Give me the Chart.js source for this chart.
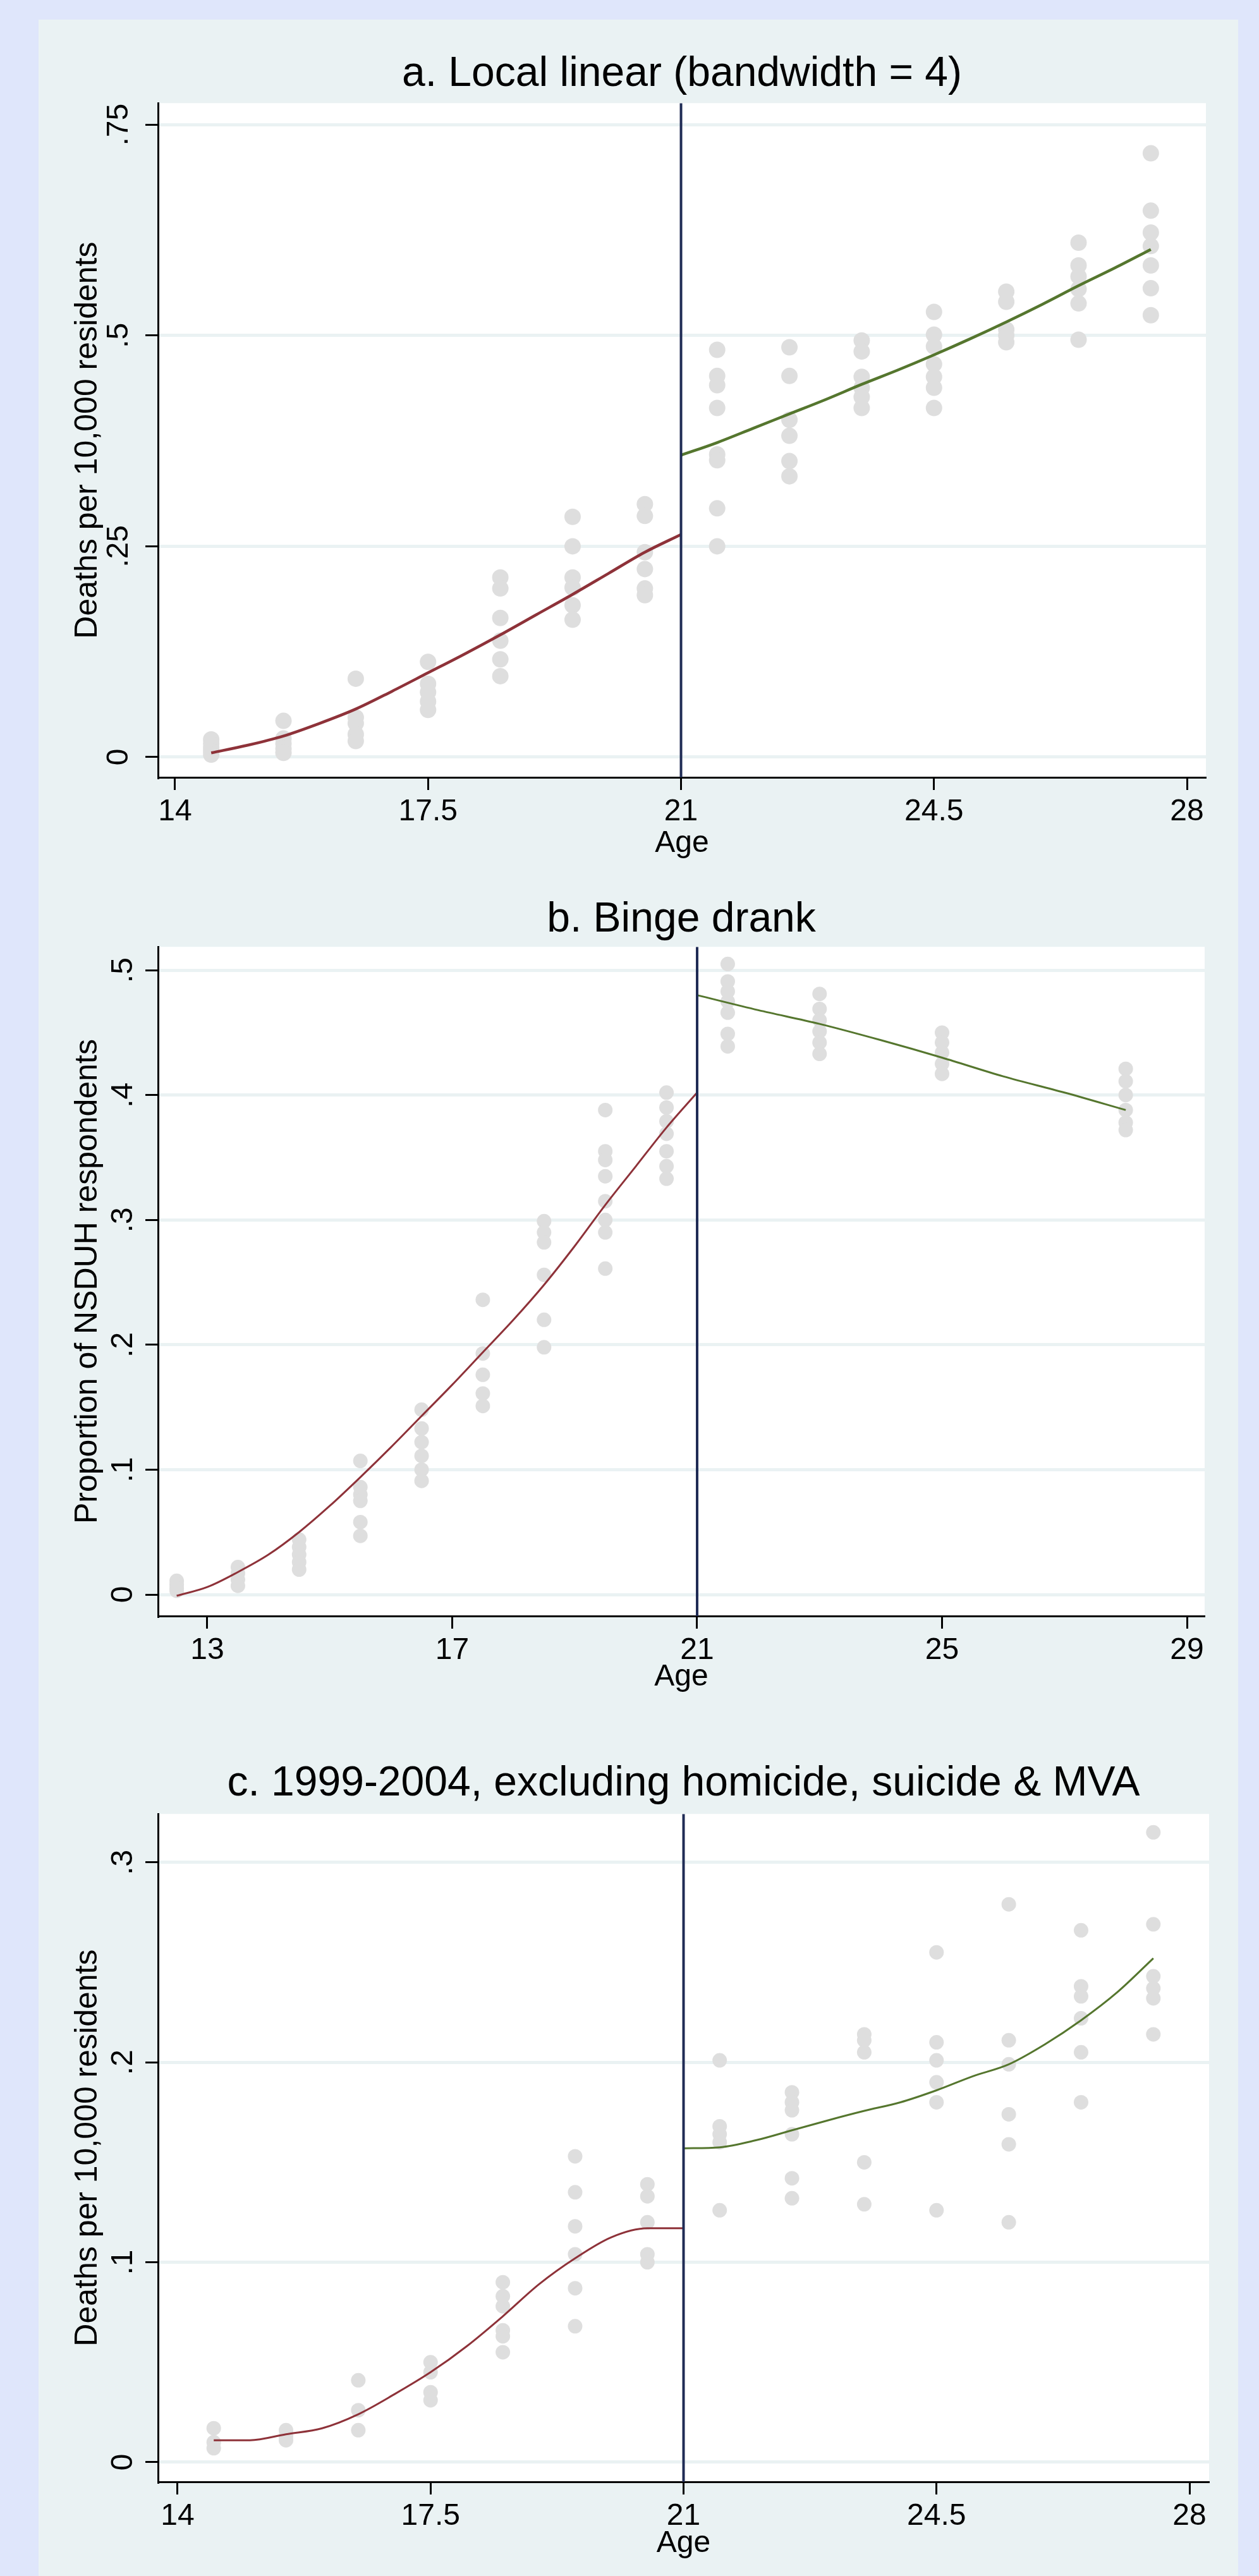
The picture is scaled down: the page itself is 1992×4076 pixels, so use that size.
<!DOCTYPE html>
<html>
<head>
<meta charset="utf-8">
<script src="https://cdn.jsdelivr.net/npm/chart.js@4"></script>
<style>
  html, body { margin: 0; padding: 0; }
  body { width: 1992px; height: 4076px; background: #dfe6fb; position: relative; overflow: hidden; }
  #frame { position: absolute; left: 61px; top: 31px; width: 1898px; height: 4045px; background: #eaf2f3; }
  canvas { position: absolute; left: 0; }
</style>
</head>
<body>
<div id="frame">
  <canvas id="chart-a" width="1898" height="1349" style="top:0px"></canvas>
  <canvas id="chart-b" width="1898" height="1350" style="top:1349px"></canvas>
  <canvas id="chart-c" width="1898" height="1346" style="top:2699px"></canvas>
</div>
<script>
// ---- a. Local linear (bandwidth = 4) ----
const agesA = [14.5, 15.5, 16.5, 17.5, 18.5, 19.5, 20.5, 21.5, 22.5, 23.5, 24.5, 25.5, 26.5, 27.5];
const deathsA = [
  [0.021, 0.016, 0.011, 0.007, 0.003],
  [0.043, 0.022, 0.016, 0.010, 0.005],
  [0.093, 0.047, 0.040, 0.027, 0.019],
  [0.113, 0.087, 0.077, 0.066, 0.056],
  [0.213, 0.200, 0.165, 0.138, 0.116, 0.096],
  [0.285, 0.250, 0.213, 0.201, 0.180, 0.163],
  [0.300, 0.286, 0.243, 0.223, 0.200, 0.192],
  [0.483, 0.452, 0.441, 0.414, 0.359, 0.352, 0.295, 0.250],
  [0.486, 0.452, 0.400, 0.381, 0.351, 0.333],
  [0.494, 0.481, 0.451, 0.438, 0.427, 0.414],
  [0.528, 0.501, 0.487, 0.466, 0.451, 0.438, 0.414],
  [0.552, 0.540, 0.507, 0.500, 0.492],
  [0.610, 0.583, 0.570, 0.555, 0.538, 0.495],
  [0.716, 0.648, 0.622, 0.606, 0.583, 0.556, 0.524]
];
const fitAgeA1 = [14.5, 15, 15.5, 16, 16.5, 17, 17.5, 18, 18.5, 19, 19.5, 20, 20.5, 21];
const fitA1 = [0.005, 0.014, 0.025, 0.040, 0.057, 0.078, 0.100, 0.122, 0.145, 0.169, 0.193, 0.218, 0.243, 0.264];
const fitAgeA2 = [21, 21.5, 22, 22.5, 23, 23.5, 24, 24.5, 25, 25.5, 26, 26.5, 27, 27.5];
const fitA2 = [0.358, 0.373, 0.390, 0.407, 0.424, 0.442, 0.459, 0.477, 0.496, 0.516, 0.537, 0.559, 0.580, 0.602];
const xTicksA = [14, 17.5, 21, 24.5, 28];
const yTicksA = [0, 0.25, 0.5, 0.75];
const yLabelsA = ['0', '.25', '.5', '.75'];

// ---- b. Binge drank ----
const agesB = [12.5, 13.5, 14.5, 15.5, 16.5, 17.5, 18.5, 19.5, 20.5, 21.5, 23, 25, 28];
const bingeB = [
  [0.011, 0.008, 0.005, 0.003],
  [0.022, 0.017, 0.012, 0.007],
  [0.044, 0.038, 0.032, 0.026, 0.020],
  [0.107, 0.086, 0.080, 0.075, 0.058, 0.047],
  [0.148, 0.133, 0.122, 0.111, 0.100, 0.091],
  [0.236, 0.193, 0.176, 0.161, 0.151],
  [0.299, 0.290, 0.282, 0.256, 0.220, 0.198],
  [0.388, 0.355, 0.348, 0.335, 0.315, 0.300, 0.290, 0.261],
  [0.402, 0.390, 0.379, 0.369, 0.355, 0.343, 0.333],
  [0.505, 0.491, 0.483, 0.475, 0.466, 0.449, 0.439],
  [0.481, 0.469, 0.460, 0.451, 0.442, 0.433],
  [0.450, 0.442, 0.434, 0.425, 0.417],
  [0.421, 0.411, 0.400, 0.388, 0.378, 0.372]
];
const fitAgeB1 = [12.5, 13, 13.5, 14, 14.5, 15, 15.5, 16, 16.5, 17, 17.5, 18, 18.5, 19, 19.5, 20, 20.5, 21];
const fitB1 = [-0.001, 0.006, 0.018, 0.032, 0.050, 0.071, 0.094, 0.118, 0.143, 0.168, 0.194, 0.220, 0.248, 0.279, 0.312, 0.343, 0.374, 0.402];
const fitAgeB2 = [21, 22, 23, 24, 25, 26, 27, 28];
const fitB2 = [0.480, 0.468, 0.457, 0.444, 0.430, 0.415, 0.402, 0.388];
const xTicksB = [13, 17, 21, 25, 29];
const yTicksB = [0, 0.1, 0.2, 0.3, 0.4, 0.5];
const yLabelsB = ['0', '.1', '.2', '.3', '.4', '.5'];

// ---- c. 1999-2004, excluding homicide, suicide & MVA ----
const agesC = [14.5, 15.5, 16.5, 17.5, 18.5, 19.5, 20.5, 21.5, 22.5, 23.5, 24.5, 25.5, 26.5, 27.5];
const deathsC = [
  [0.017, 0.010, 0.007],
  [0.016, 0.013, 0.011],
  [0.041, 0.026, 0.016],
  [0.050, 0.045, 0.035, 0.031],
  [0.090, 0.083, 0.078, 0.066, 0.063, 0.055],
  [0.153, 0.135, 0.118, 0.104, 0.087, 0.068],
  [0.139, 0.133, 0.120, 0.104, 0.100],
  [0.201, 0.168, 0.164, 0.160, 0.126],
  [0.185, 0.180, 0.176, 0.164, 0.142, 0.132],
  [0.214, 0.211, 0.205, 0.150, 0.129],
  [0.255, 0.210, 0.201, 0.190, 0.180, 0.126],
  [0.279, 0.211, 0.199, 0.174, 0.159, 0.120],
  [0.266, 0.238, 0.233, 0.222, 0.205, 0.180],
  [0.315, 0.269, 0.243, 0.237, 0.232, 0.214]
];
const fitAgeC1 = [14.5, 15, 15.5, 16, 16.5, 17, 17.5, 18, 18.5, 19, 19.5, 20, 20.5, 21];
const fitC1 = [0.011, 0.011, 0.014, 0.017, 0.024, 0.034, 0.045, 0.058, 0.073, 0.089, 0.102, 0.1125, 0.117, 0.117];
const fitAgeC2 = [21, 21.5, 22, 22.5, 23, 23.5, 24, 24.5, 25, 25.5, 26, 26.5, 27, 27.5];
const fitC2 = [0.157, 0.1575, 0.161, 0.166, 0.171, 0.1757, 0.180, 0.186, 0.193, 0.199, 0.209, 0.221, 0.235, 0.252];
const xTicksC = [14, 17.5, 21, 24.5, 28];
const yTicksC = [0, 0.1, 0.2, 0.3];
const yLabelsC = ['0', '.1', '.2', '.3'];

const CUTOFF = 21;
const FONT = '"Liberation Sans", Arial, Helvetica, sans-serif';
const MAROON = '#8e3239';
const GREEN = '#55762e';
const NAVY = '#1f2b55';
const DOT = '#dedede';

// Fond blanc de la zone de tracé
const plotBg = {
  id: 'plotBg',
  beforeDraw(chart) {
    const { ctx, chartArea: a } = chart;
    ctx.save();
    ctx.fillStyle = '#ffffff';
    ctx.fillRect(a.left, a.top, a.right - a.left, a.bottom - a.top);
    ctx.restore();
  }
};

function toPoints(ages, values) {
  return ages.flatMap((age, i) => values[i].map(v => ({ x: age, y: v })));
}

function toLine(ages, values) {
  return ages.map((age, i) => ({ x: age, y: values[i] }));
}

function drawPanel(id, p) {
  const lineStyle = (color, data) => ({
    type: 'line', data, borderColor: color, borderWidth: p.lineWidth,
    pointRadius: 0, fill: false, cubicInterpolationMode: 'monotone', order: 1
  });

  new Chart(document.getElementById(id), {
    type: 'scatter',
    data: {
      datasets: [
        { data: p.points, backgroundColor: DOT, borderWidth: 0, pointRadius: p.dotRadius, pointHoverRadius: p.dotRadius, order: 3 },
        lineStyle(MAROON, p.left),
        lineStyle(GREEN, p.right),
        { type: 'line', data: [{ x: CUTOFF, y: p.yMin }, { x: CUTOFF, y: p.yMax }],
          borderColor: NAVY, borderWidth: 4, pointRadius: 0, order: 0 }
      ]
    },
    options: {
      responsive: false,
      animation: false,
      events: [],
      layout: { padding: { left: 0, right: p.padRight, top: 0, bottom: 0 } },
      plugins: {
        legend: { display: false },
        tooltip: { enabled: false },
        title: {
          display: true, text: p.title, color: '#000', fullSize: false,
          font: { family: FONT, size: 66, weight: 'normal', lineHeight: 1.2 },
          padding: { top: p.titleTop, bottom: p.titleBottom }
        }
      },
      scales: {
        x: {
          type: 'linear', min: p.xMin, max: p.xMax,
          afterBuildTicks: s => { s.ticks = p.xTicks.map(v => ({ value: v })); },
          afterFit: s => { s.height = p.xAxisHeight; },
          ticks: { color: '#000', font: { family: FONT, size: 48 }, padding: 6, autoSkip: false, maxRotation: 0,
                   callback: v => String(v) },
          grid: { drawOnChartArea: false, drawTicks: true, tickLength: 20, tickWidth: 3, tickColor: '#000' },
          border: { display: true, color: '#000', width: 3 },
          title: { display: true, text: 'Age', color: '#000',
                   font: { family: FONT, size: 48, lineHeight: 1.2 }, padding: { top: 0, bottom: p.agePad } }
        },
        y: {
          type: 'linear', min: p.yMin, max: p.yMax,
          afterBuildTicks: s => { s.ticks = p.yTicks.map(v => ({ value: v })); },
          afterFit: s => { s.width = 189; },
          ticks: { color: '#000', font: { family: FONT, size: 48 }, padding: p.yTickPad, autoSkip: false,
                   minRotation: 90, maxRotation: 90, crossAlign: 'center',
                   callback: v => p.yLabels[p.yTicks.indexOf(v)] },
          grid: { color: '#eaf2f3', lineWidth: 5, drawTicks: true, tickLength: 20, tickWidth: 3, tickColor: '#000' },
          border: { display: true, color: '#000', width: 3 },
          title: { display: true, text: p.yTitle, color: '#000',
                   font: { family: FONT, size: 50, lineHeight: 1.2 }, padding: { top: 48, bottom: 0 } }
        }
      }
    },
    plugins: [plotBg]
  });
}

drawPanel('chart-a', {
  title: 'a. Local linear (bandwidth = 4)', yTitle: 'Deaths per 10,000 residents',
  points: toPoints(agesA, deathsA), left: toLine(fitAgeA1, fitA1), right: toLine(fitAgeA2, fitA2),
  xTicks: xTicksA, yTicks: yTicksA, yLabels: yLabelsA,
  xMin: 13.764, xMax: 28.262, yMin: -0.024, yMax: 0.7755, dotRadius: 13,
  lineWidth: 4.5, padRight: 51, titleTop: 47, titleBottom: 6, xAxisHeight: 150, agePad: 16, yTickPad: 8
});

drawPanel('chart-b', {
  title: 'b. Binge drank', yTitle: 'Proportion of NSDUH respondents',
  points: toPoints(agesB, bingeB), left: toLine(fitAgeB1, fitB1), right: toLine(fitAgeB2, fitB2),
  xTicks: xTicksB, yTicks: yTicksB, yLabels: yLabelsB,
  xMin: 12.195, xMax: 29.289, yMin: -0.0172, yMax: 0.5187, dotRadius: 11.5,
  lineWidth: 3, padRight: 53, titleTop: 36, titleBottom: 3, xAxisHeight: 173, agePad: 47, yTickPad: 14
});

drawPanel('chart-c', {
  title: 'c. 1999-2004, excluding homicide, suicide & MVA', yTitle: 'Deaths per 10,000 residents',
  points: toPoints(agesC, deathsC), left: toLine(fitAgeC1, fitC1), right: toLine(fitAgeC2, fitC2),
  xTicks: xTicksC, yTicks: yTicksC, yLabels: yLabelsC,
  xMin: 13.729, xMax: 28.271, yMin: -0.0098, yMax: 0.3242, dotRadius: 11.5,
  lineWidth: 3, padRight: 46, titleTop: 53, titleBottom: 8, xAxisHeight: 149, agePad: 22, yTickPad: 14
});
</script>
</body>
</html>
